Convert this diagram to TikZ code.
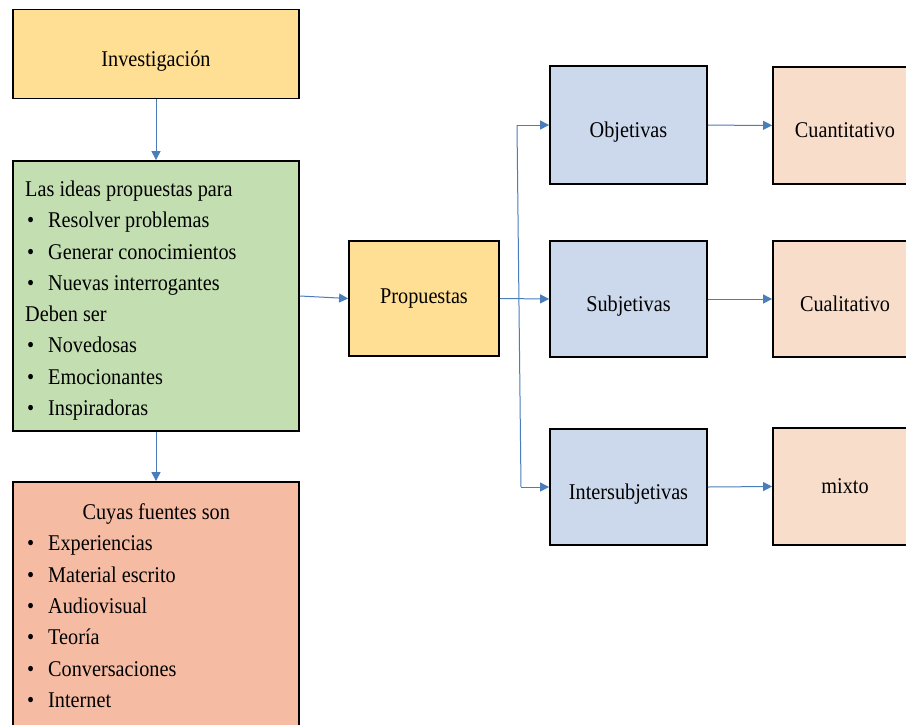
\documentclass[tikz,border=0pt]{standalone}
\usepackage{fontspec}
\setmainfont{Liberation Serif}[FakeStretch=0.9]
\usetikzlibrary{arrows.meta}
\definecolor{cyel}{HTML}{FFDF93}
\definecolor{cgreen}{HTML}{C3DFB1}
\definecolor{cred}{HTML}{F5BCA3}
\definecolor{cblue}{HTML}{CCD8EC}
\definecolor{cpeach}{HTML}{F9DDCB}
\definecolor{cline}{HTML}{4A7EBB}
\newcommand\mybul{\makebox[23pt][l]{\hspace{2pt}•}}
\begin{document}
\begin{tikzpicture}[x=1pt,y=-1pt,
  boxstyle/.style={draw=black,line width=1.8pt,inner sep=0pt,font=\fontsize{22.5}{31.3}\selectfont},
  low/.style={text height=24pt,text depth=0pt},
  txt/.style={align=left,inner sep=0pt,font=\fontsize{22.5}{31.3}\selectfont},
  arr/.style={draw=cline,line width=1pt,-{Triangle[length=9pt,width=9pt]}},
  plain/.style={draw=cline,line width=1pt},
]
\fill[white] (0,0) rectangle (906,724);
\useasboundingbox (0,0) rectangle (906,724);

\node[boxstyle,low,fill=cyel,minimum width=286pt,minimum height=89pt] (inv) at (156,54) {Investigación};

\node[boxstyle,fill=cgreen,minimum width=286pt,minimum height=270pt] (ideas) at (156,296) {};
\node[txt,anchor=north west] (ideastext) at (25,180.6) {Las ideas propuestas para\\
\mybul Resolver problemas\\
\mybul Generar conocimientos\\
\mybul Nuevas interrogantes\\
Deben ser\\
\mybul Novedosas\\
\mybul Emocionantes\\
\mybul Inspiradoras};

\node[boxstyle,fill=cred,minimum width=286pt,minimum height=248pt] (src) at (156,606) {};
\node[txt,anchor=north west] (srctext) at (25,503.6) {\makebox[262pt][c]{Cuyas fuentes son}\\
\mybul Experiencias\\
\mybul Material escrito\\
\mybul Audiovisual\\
\mybul Teoría\\
\mybul Conversaciones\\
\mybul Internet};

\node[boxstyle,fill=cyel,minimum width=150pt,minimum height=115pt] (prop) at (424,298.5) {Propuestas};

\node[boxstyle,low,fill=cblue,minimum width=157pt,minimum height=118pt] (obj) at (628.5,125) {Objetivas};
\node[boxstyle,low,fill=cblue,minimum width=157pt,minimum height=116pt] (subj) at (628.5,299) {Subjetivas};
\node[boxstyle,low,fill=cblue,minimum width=157pt,minimum height=116pt] (inter) at (628.5,487) {Intersubjetivas};

\node[boxstyle,low,fill=cpeach,minimum width=144pt,minimum height=117pt] (cuan) at (845,125.5) {Cuantitativo};
\node[boxstyle,low,fill=cpeach,minimum width=144pt,minimum height=116pt] (cual) at (845,299) {Cualitativo};
\node[boxstyle,fill=cpeach,minimum width=144pt,minimum height=117pt] (mixto) at (845,486.5) {mixto};

\coordinate (jt) at (517,125);
\coordinate (jb) at (521,487);

\draw[arr] (inv) -- (ideas);
\draw[arr] (ideas) -- (src);
\draw[arr] (ideas.east) -- (prop.west);
\draw[arr] (prop.east) -- (subj.west);
\draw[plain] (jt) -- (jb);
\draw[arr] (jt) -- (obj.west);
\draw[arr] (jb) -- (inter.west);
\draw[arr] (obj) -- (cuan);
\draw[arr] (subj) -- (cual);
\draw[arr] (inter.east) -- (mixto.west);
\end{tikzpicture}
\end{document}
